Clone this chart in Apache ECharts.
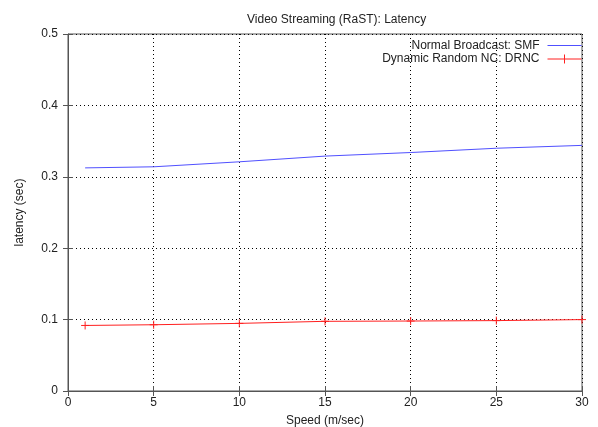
<!DOCTYPE html>
<html>
<head>
<meta charset="utf-8">
<script src="https://cdn.jsdelivr.net/npm/echarts@6/dist/echarts.min.js"></script>
<style>
html,body{margin:0;padding:0;background:#fff;}
#chart{width:598px;height:427px;}
</style>
</head>
<body>
<div id="chart"></div>
<script>
// Speed (m/sec) sample points
const speeds = [1, 5, 10, 15, 20, 25, 30];
// Latency (sec) per scheme
const smfLatency = [0.3125, 0.314, 0.321, 0.329, 0.334, 0.340, 0.344];
const drncLatency = [0.0918, 0.0928, 0.0947, 0.0976, 0.098, 0.0986, 0.100];
const xTicks = [0, 5, 10, 15, 20, 25, 30];
const yTicks = [0, 0.1, 0.2, 0.3, 0.4, 0.5];

const font = 'Liberation Sans, Arial, sans-serif';
const smfColor = '#5050ff';
const drncColor = '#ff2020';
const plus = 'path://M0,5L10,5M5,0L5,10';
// legend keys: a thin bar for SMF, a bar with a "+" for DRNC
const smfKey = 'path://M0,4L34,4L34,5L0,5Z';
const drncKey = 'path://M0,4.5L34,4.5M17,0L17,9';

const chart = echarts.init(document.getElementById('chart'));
const gridLine = {show: true, lineStyle: {color: '#000', type: [1, 3], width: 1}};
chart.setOption({
  backgroundColor: '#fff',
  animation: false,
  title: {
    text: 'Video Streaming (RaST): Latency',
    left: 242, top: 9,
    textStyle: {fontFamily: font, fontSize: 12, fontWeight: 'normal', color: '#222'}
  },
  legend: {
    orient: 'vertical', right: 14, top: 39, align: 'right', padding: 0,
    itemWidth: 34, itemHeight: 9, itemGap: 0,
    textStyle: {fontFamily: font, fontSize: 12, lineHeight: 13, color: '#222', padding: [0, 3, 0, 0]},
    data: [
      {name: 'Normal Broadcast: SMF', icon: smfKey,
        itemStyle: {color: smfColor, borderWidth: 0}},
      {name: 'Dynamic Random NC: DRNC', icon: drncKey,
        itemStyle: {color: 'none', borderColor: drncColor, borderWidth: 1}}
    ]
  },
  grid: {left: 68, right: 16, top: 34, bottom: 36, outerBoundsMode: 'none',
    show: true, borderColor: '#555', borderWidth: 1},
  xAxis: [{
    type: 'value', min: xTicks[0], max: xTicks[xTicks.length - 1], interval: 5,
    name: 'Speed (m/sec)', nameLocation: 'middle', nameGap: 24,
    nameTextStyle: {fontFamily: font, fontSize: 12, color: '#222', verticalAlign: 'top'},
    axisLine: {lineStyle: {color: '#555'}},
    axisTick: {inside: true, length: 5, lineStyle: {color: '#555'}},
    axisLabel: {fontFamily: font, fontSize: 12, color: '#222', margin: 6},
    splitLine: gridLine
  }, {
    type: 'value', position: 'top', min: xTicks[0], max: xTicks[xTicks.length - 1], interval: 5,
    axisLine: {show: false},
    axisTick: {inside: true, length: 5, lineStyle: {color: '#555'}},
    axisLabel: {show: false}, splitLine: {show: false}
  }],
  yAxis: [{
    type: 'value', min: yTicks[0], max: yTicks[yTicks.length - 1], interval: 0.1,
    name: 'latency (sec)', nameLocation: 'middle', nameGap: 42, nameRotate: 90,
    nameTextStyle: {fontFamily: font, fontSize: 12, color: '#222'},
    axisLine: {show: true, lineStyle: {color: '#555'}},
    axisTick: {show: true, inside: true, length: 5, lineStyle: {color: '#555'}},
    axisLabel: {fontFamily: font, fontSize: 12, color: '#222', margin: 10,
      formatter: v => String(Math.round(v * 10) / 10)},
    splitLine: gridLine
  }, {
    type: 'value', position: 'right', min: yTicks[0], max: yTicks[yTicks.length - 1], interval: 0.1,
    axisLine: {show: false},
    axisTick: {show: true, inside: true, length: 5, lineStyle: {color: '#555'}},
    axisLabel: {show: false}, splitLine: {show: false}
  }],
  series: [{
    name: 'Normal Broadcast: SMF', type: 'line',
    data: speeds.map((s, i) => [s, smfLatency[i]]),
    showSymbol: false, symbol: 'none',
    lineStyle: {color: smfColor, width: 1},
    itemStyle: {color: smfColor}
  }, {
    name: 'Dynamic Random NC: DRNC', type: 'line',
    data: speeds.map((s, i) => [s, drncLatency[i]]),
    symbol: plus, symbolSize: 8,
    lineStyle: {color: drncColor, width: 1},
    itemStyle: {color: 'none', borderColor: drncColor, borderWidth: 1}
  }]
});
</script>
</body>
</html>
